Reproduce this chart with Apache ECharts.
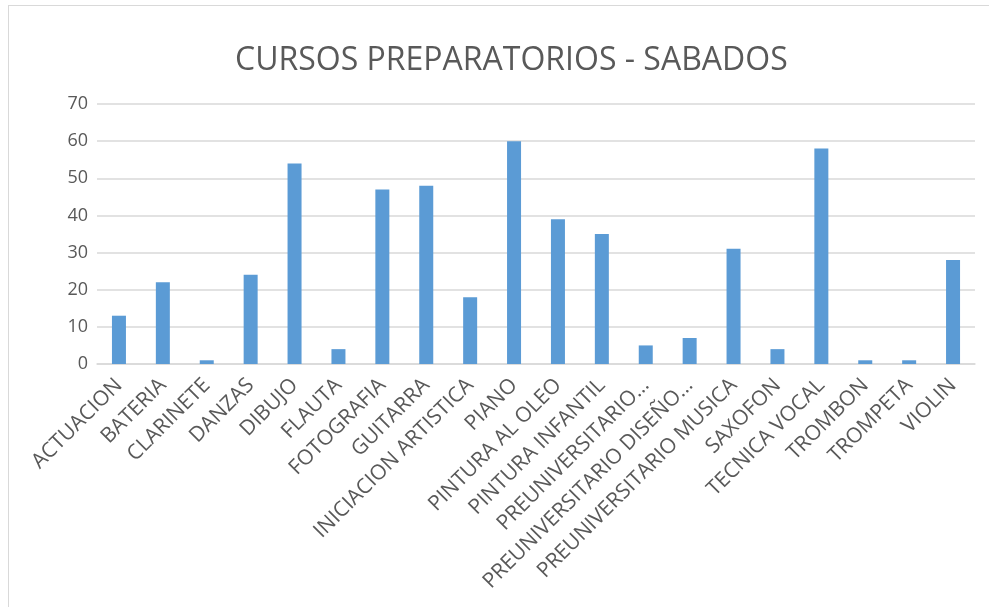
<!DOCTYPE html>
<html>
<head>
<meta charset="utf-8">
<script src="https://cdn.jsdelivr.net/npm/echarts@6/dist/echarts.min.js"></script>
<style>
html,body{margin:0;padding:0;background:#fff;}
#frame{position:absolute;left:8px;top:5px;width:985px;height:610px;border:1px solid #d9d9d9;box-sizing:border-box;}
#chart{position:absolute;left:0;top:0;width:989px;height:607px;}
</style>
</head>
<body>
<div id="frame"></div>
<div id="chart"></div>
<script>
const titleText = 'CURSOS PREPARATORIOS - SABADOS';
const categories = ['ACTUACION','BATERIA','CLARINETE','DANZAS','DIBUJO','FLAUTA','FOTOGRAFIA','GUITARRA','INICIACION ARTISTICA','PIANO','PINTURA AL OLEO','PINTURA INFANTIL','PREUNIVERSITARIO…','PREUNIVERSITARIO DISEÑO…','PREUNIVERSITARIO MUSICA','SAXOFON','TECNICA VOCAL','TROMBON','TROMPETA','VIOLIN'];
const values = [13,22,1,24,54,4,47,48,18,60,39,35,5,7,31,4,58,1,1,28];

const chart = echarts.init(document.getElementById('chart'));
chart.setOption({
  animation:false,
  title:{text:titleText,left:230,top:40,textStyle:{fontFamily:'Open Sans, sans-serif',fontWeight:'normal',fontSize:32,color:'#595959'}},
  grid:{left:97,right:14,top:104,bottom:243},
  xAxis:{type:'category',data:categories,
    axisLine:{lineStyle:{color:'#d9d9d9',width:1.5}},axisTick:{show:false},
    axisLabel:{rotate:45,interval:0,fontSize:21,color:'#595959',fontFamily:'Open Sans, sans-serif',margin:18}},
  yAxis:{type:'value',min:0,max:70,interval:10,
    axisLine:{show:false},axisTick:{show:false},
    splitLine:{lineStyle:{color:'#d9d9d9',width:1.5}},
    axisLabel:{fontSize:18,color:'#595959',fontFamily:'Open Sans, sans-serif',margin:9}},
  series:[{type:'bar',data:values,barWidth:14,itemStyle:{color:'#5B9BD5'}}]
});
</script>
</body>
</html>
